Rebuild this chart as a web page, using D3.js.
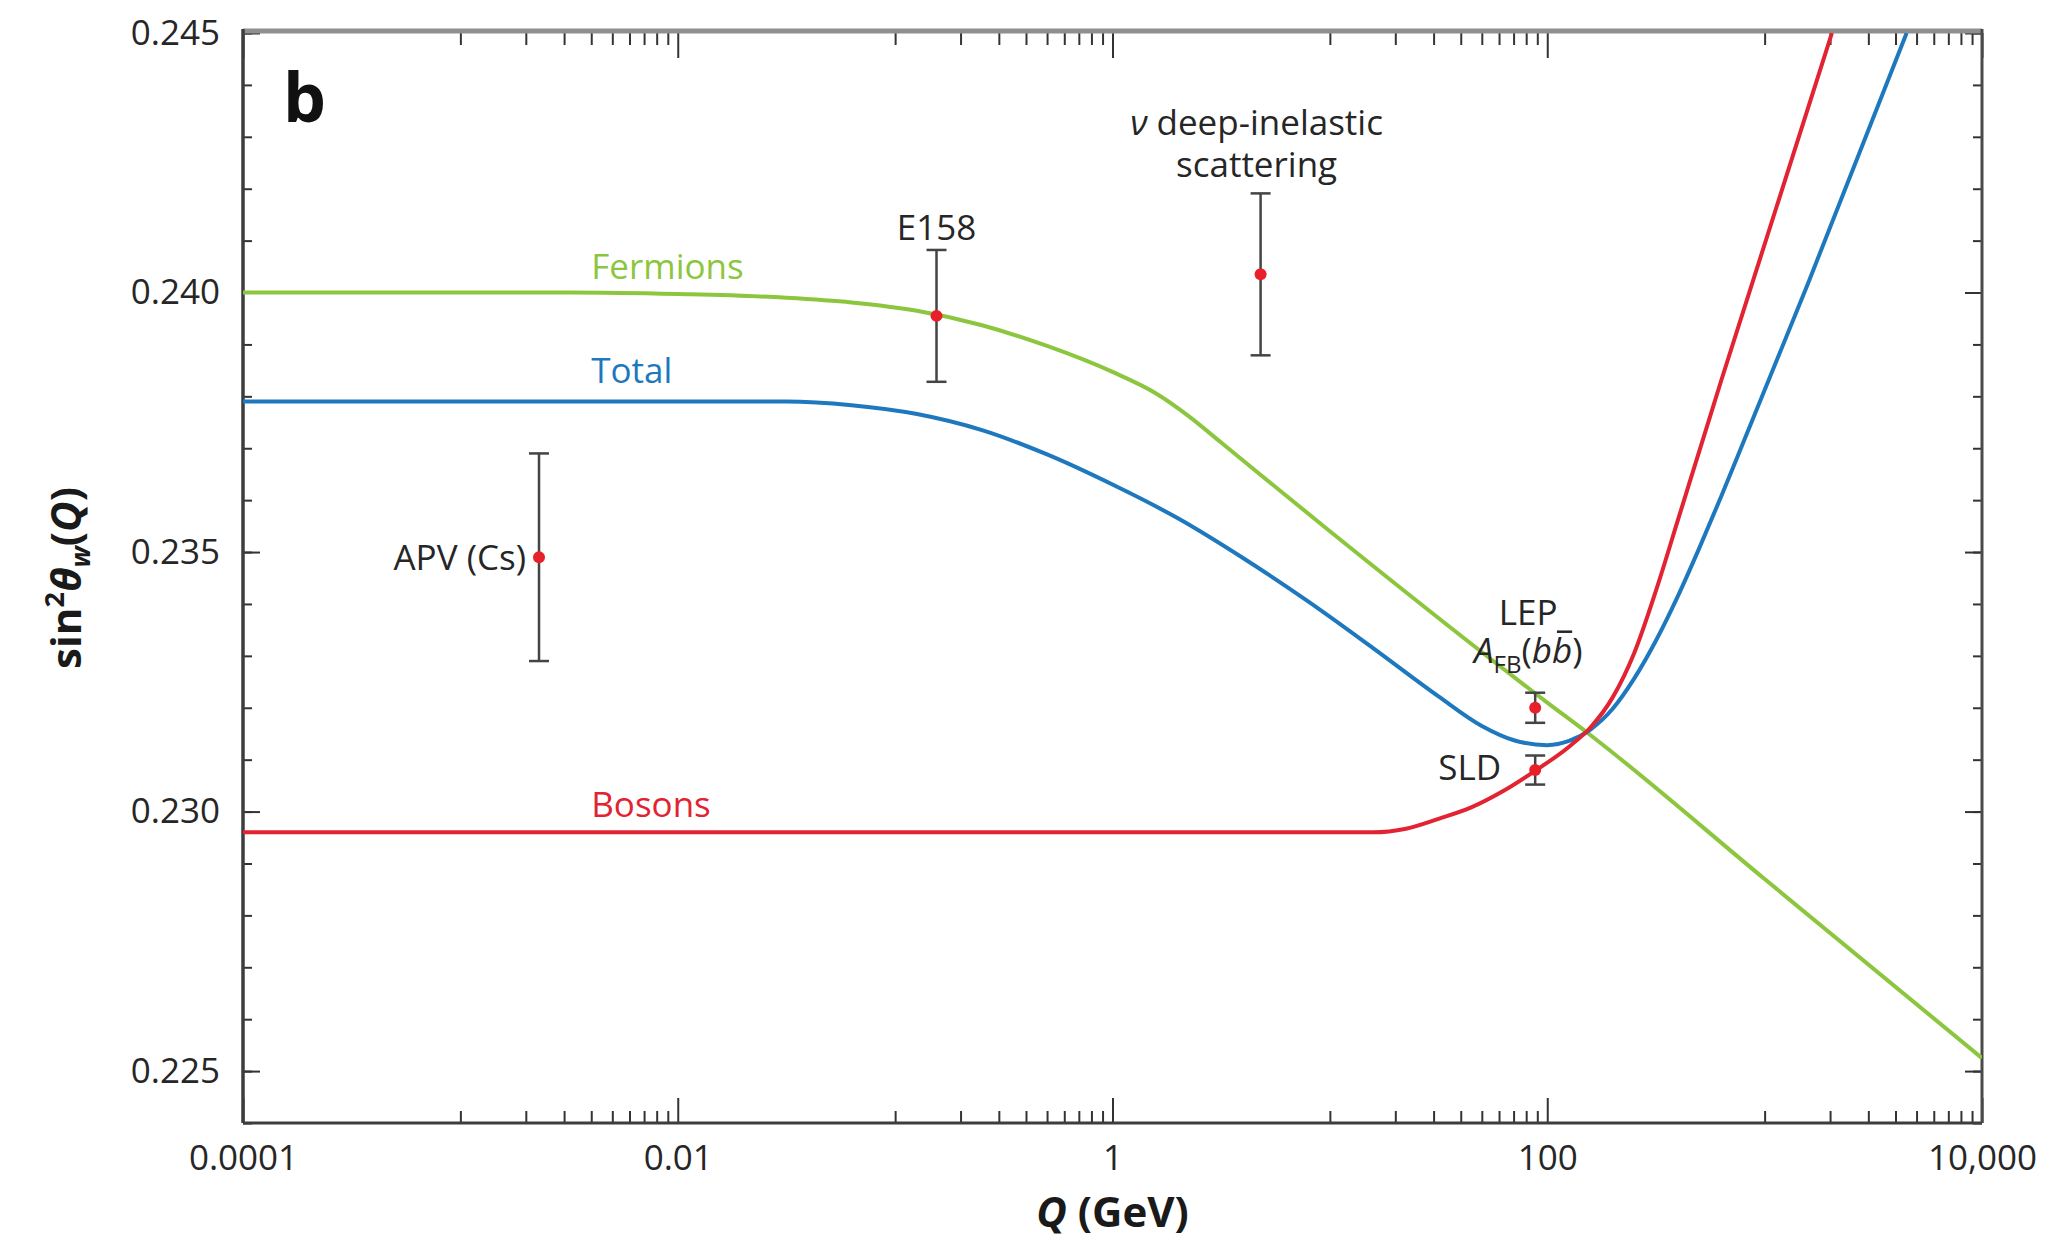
<!DOCTYPE html>
<html>
<head>
<meta charset="utf-8">
<script src="https://cdn.jsdelivr.net/npm/d3@7"></script>
<style>
  body { margin: 0; background: #fff; }
  text { font-family: "Open Sans", sans-serif; }
</style>
</head>
<body>
<svg id="chart" width="2061" height="1242"></svg>
<script>
// curves: [Q (GeV), sin^2 theta_W]
const fermions = [
  [1e-4, 0.2400], [0.00316, 0.2400], [0.01, 0.23997], [0.0316, 0.2399], [0.063, 0.23981],
  [0.126, 0.23965], [0.251, 0.23937], [0.5, 0.23897], [1, 0.23847], [1.58, 0.23806],
  [2.24, 0.23762], [3.16, 0.23711], [10, 0.2354], [100, 0.2321], [155, 0.2315],
  [1000, 0.2287], [10000, 0.22525]
];
const total = [
  [1e-4, 0.2379], [0.0316, 0.2379], [0.063, 0.23783], [0.126, 0.23766], [0.251, 0.23735],
  [0.5, 0.23688], [1, 0.2363], [2, 0.23565], [4, 0.23488], [7.94, 0.23405],
  [15.8, 0.23315], [31.6, 0.23222], [50, 0.23165], [70.8, 0.23137], [100, 0.23128],
  [126, 0.23136], [158, 0.23158], [200, 0.23198], [251, 0.23256], [316, 0.23329],
  [398, 0.23414], [501, 0.23508], [631, 0.23607], [794, 0.23709], [1585, 0.24018],
  [4500, 0.2450]
];
const bosons = [
  [1e-4, 0.2296], [15.8, 0.2296], [22.4, 0.22967], [31.6, 0.22986], [44.7, 0.23008],
  [63, 0.2304], [89, 0.2308], [126, 0.23125], [158, 0.23162], [200, 0.2322],
  [251, 0.23305], [316, 0.23425], [398, 0.2356], [501, 0.23695], [631, 0.2383],
  [2040, 0.2450]
];

// measurements with symmetric errors
const measurements = [
  { name: "APV", q: 0.0023, value: 0.2349, error: 0.0020 },
  { name: "E158", q: 0.155, value: 0.23955, error: 0.00127 },
  { name: "NuTeV", q: 4.8, value: 0.24035, error: 0.00156 },
  { name: "LEP", q: 88, value: 0.2320, error: 0.00029 },
  { name: "SLD", q: 88, value: 0.2308, error: 0.00028 }
];

const xTickValues = [1e-4, 1e-2, 1, 100, 1e4];
const xTickLabels = ["0.0001", "0.01", "1", "100", "10,000"];
const yTickValues = [0.225, 0.230, 0.235, 0.240, 0.245];
const yTickLabels = ["0.225", "0.230", "0.235", "0.240", "0.245"];

const series = [
  { name: "Fermions", data: fermions, color: "#8cc63f" },
  { name: "Total", data: total, color: "#1e78be" },
  { name: "Bosons", data: bosons, color: "#e12332" }
];

const svg = d3.select("#chart");
const margin = { top: 33, right: 79, bottom: 119, left: 243 };
const width = +svg.attr("width") - margin.left - margin.right;
const height = +svg.attr("height") - margin.top - margin.bottom;
const font = "'Open Sans', sans-serif";
const ink = "#262626";

const g = svg.append("g")
  .attr("transform", `translate(${margin.left},${margin.top})`);

const x = d3.scaleLog().domain([1e-4, 1e4]).range([0, width]);
const y = d3.scaleLinear().domain([0.224, 0.245]).range([height, 0]);

g.append("defs").append("clipPath").attr("id", "plot-clip")
  .append("rect").attr("width", width).attr("height", height);

// minor ticks only in every second decade, as in the figure
const xMinor = [];
[-3, -1, 1, 3].forEach(p => {
  for (let k = 1; k <= 9; k++) xMinor.push(k * Math.pow(10, p));
});
const yMinor = d3.range(224, 246).map(d => d / 1000);

function tidy(sel) {
  sel.select(".domain").remove();
  sel.attr("font-family", font).attr("font-size", 35);
  sel.selectAll(".tick line").attr("stroke", "#333").attr("stroke-width", 2);
  sel.selectAll(".tick text").attr("fill", ink);
}

// bottom
g.append("g").attr("transform", `translate(0,${height})`)
  .call(d3.axisBottom(x).tickValues(xMinor).tickFormat("").tickSize(-12).tickSizeOuter(0))
  .call(tidy);
g.append("g").attr("transform", `translate(0,${height})`)
  .call(d3.axisBottom(x).tickValues(xTickValues).tickFormat((d, i) => xTickLabels[i])
    .tickSize(-25).tickSizeOuter(0).tickPadding(22))
  .call(tidy);
// top
g.append("g")
  .call(d3.axisTop(x).tickValues(xMinor).tickFormat("").tickSize(-12).tickSizeOuter(0))
  .call(tidy);
g.append("g")
  .call(d3.axisTop(x).tickValues(xTickValues).tickFormat("").tickSize(-25).tickSizeOuter(0))
  .call(tidy);
// left
g.append("g")
  .call(d3.axisLeft(y).tickValues(yMinor).tickFormat("").tickSize(-9).tickSizeOuter(0))
  .call(tidy);
g.append("g")
  .call(d3.axisLeft(y).tickValues(yTickValues).tickFormat((d, i) => yTickLabels[i])
    .tickSize(-17).tickSizeOuter(0).tickPadding(23))
  .call(tidy);
// right
g.append("g").attr("transform", `translate(${width},0)`)
  .call(d3.axisRight(y).tickValues(yMinor).tickFormat("").tickSize(-9).tickSizeOuter(0))
  .call(tidy);
g.append("g").attr("transform", `translate(${width},0)`)
  .call(d3.axisRight(y).tickValues(yTickValues).tickFormat("").tickSize(-17).tickSizeOuter(0))
  .call(tidy);

// frame
g.append("line").attr("x1", 0).attr("x2", width).attr("y1", -2).attr("y2", -2)
  .attr("stroke", "#8f8f8f").attr("stroke-width", 5);
g.append("line").attr("x1", 0).attr("x2", 0).attr("y1", -4).attr("y2", height)
  .attr("stroke", "#3d3d3d").attr("stroke-width", 3.5);
g.append("line").attr("x1", 0).attr("x2", width).attr("y1", height).attr("y2", height)
  .attr("stroke", "#3d3d3d").attr("stroke-width", 3);
g.append("line").attr("x1", width).attr("x2", width).attr("y1", -4).attr("y2", height)
  .attr("stroke", "#4a4a4a").attr("stroke-width", 3);

// curves
const line = d3.line()
  .x(d => x(d[0]))
  .y(d => y(d[1]))
  .curve(d3.curveMonotoneX);

g.append("g").attr("clip-path", "url(#plot-clip)")
  .selectAll("path")
  .data(series)
  .enter()
  .append("path")
  .attr("d", d => line(d.data))
  .attr("fill", "none")
  .attr("stroke", d => d.color)
  .attr("stroke-width", 4);

// curve labels
const labelLift = { Fermions: 14, Total: 19, Bosons: 15 };
g.selectAll(".curve-label")
  .data(series)
  .enter()
  .append("text")
  .attr("class", "curve-label")
  .attr("x", x(0.004))
  .attr("y", d => y(d.data[0][1]) - labelLift[d.name])
  .attr("font-size", 35)
  .attr("fill", d => d.color)
  .text(d => d.name);

// error bars
const bars = g.selectAll(".bar")
  .data(measurements)
  .enter()
  .append("g")
  .attr("class", "bar");

bars.append("line")
  .attr("x1", d => x(d.q)).attr("x2", d => x(d.q))
  .attr("y1", d => y(d.value - d.error)).attr("y2", d => y(d.value + d.error))
  .attr("stroke", "#444").attr("stroke-width", 2.5);
[1, -1].forEach(s => {
  bars.append("line")
    .attr("x1", d => x(d.q) - 10).attr("x2", d => x(d.q) + 10)
    .attr("y1", d => y(d.value + s * d.error)).attr("y2", d => y(d.value + s * d.error))
    .attr("stroke", "#444").attr("stroke-width", 2.5);
});
bars.append("circle")
  .attr("cx", d => x(d.q))
  .attr("cy", d => y(d.value))
  .attr("r", 6)
  .attr("fill", "#e8202a");

// measurement labels
const m = {};
measurements.forEach(d => { m[d.name] = d; });

function label(px, py, anchor) {
  return g.append("text")
    .attr("x", px).attr("y", py)
    .attr("text-anchor", anchor)
    .attr("font-size", 35)
    .attr("fill", ink);
}

label(x(m.APV.q) - 13, y(m.APV.value) + 13, "end").text("APV (Cs)");
label(x(m.E158.q), y(m.E158.value + m.E158.error) - 10, "middle").text("E158");

const nuTop = y(m.NuTeV.value + m.NuTeV.error);
const nu = label(x(m.NuTeV.q) - 4, nuTop - 58, "middle");
nu.append("tspan").attr("font-style", "italic").text("ν");
nu.append("tspan").text(" deep-inelastic");
label(x(m.NuTeV.q) - 4, nuTop - 16, "middle").text("scattering");

const lepTop = y(m.LEP.value + m.LEP.error);
label(x(m.LEP.q) - 7, lepTop - 68, "middle").text("LEP");
const afb = label(x(m.LEP.q) - 7, lepTop - 30, "middle");
afb.append("tspan").attr("font-style", "italic").text("A");
afb.append("tspan").attr("font-size", 24).attr("dy", 10).text("FB");
afb.append("tspan").attr("dy", -10).text("(");
afb.append("tspan").attr("font-style", "italic").text("b");
afb.append("tspan").attr("font-style", "italic").text("b");
afb.append("tspan").text(")");
const ext = afb.node().getExtentOfChar(5);
g.append("line")
  .attr("x1", ext.x + 5).attr("x2", ext.x + ext.width)
  .attr("y1", lepTop - 30 - 31).attr("y2", lepTop - 30 - 31)
  .attr("stroke", ink).attr("stroke-width", 2.5);

label(x(m.SLD.q) - 34, y(m.SLD.value) + 10, "end").text("SLD");

// panel letter
g.append("text")
  .attr("x", 40).attr("y", 89)
  .attr("font-family", "'Liberation Sans', Arial, sans-serif")
  .attr("font-weight", "bold")
  .attr("font-size", 68)
  .attr("fill", "#111")
  .text("b");

// axis titles
const xt = g.append("text")
  .attr("x", width / 2).attr("y", height + 104)
  .attr("text-anchor", "middle")
  .attr("font-size", 42).attr("font-weight", "bold")
  .attr("fill", "#1a1a1a");
xt.append("tspan").attr("font-style", "italic").text("Q");
xt.append("tspan").text(" (GeV)");

const yt = g.append("text")
  .attr("transform", `translate(-162,${height / 2}) rotate(-90)`)
  .attr("text-anchor", "middle")
  .attr("font-size", 42).attr("font-weight", "bold")
  .attr("fill", "#1a1a1a");
yt.append("tspan").text("sin");
yt.append("tspan").attr("font-size", 27).attr("dy", -17).text("2");
yt.append("tspan").attr("font-style", "italic").attr("dy", 17).text("θ");
yt.append("tspan").attr("font-style", "italic").attr("font-size", 27).attr("dy", 9).text("w");
yt.append("tspan").attr("dy", -9).text("(");
yt.append("tspan").attr("font-style", "italic").text("Q");
yt.append("tspan").text(")");
</script>
</body>
</html>
